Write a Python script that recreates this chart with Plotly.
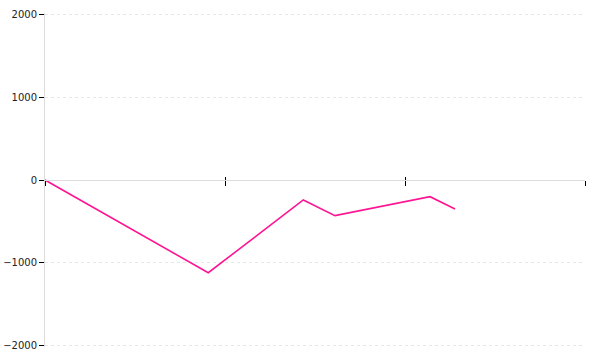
import plotly.graph_objects as go

x_values = [0, 0.907, 1.435, 1.611, 2.139, 2.278]
y_values = [0, -1124, -242, -432, -202, -352]
x_ticks = [0, 1, 2, 3]
y_ticks = [-2000, -1000, 0, 1000, 2000]
y_tick_labels = ["\u22122000", "\u22121000", "0", "1000", "2000"]

fig = go.Figure()
fig.add_trace(go.Scatter(x=x_values, y=y_values, mode="lines",
                         line=dict(color="#ff1493", width=1.6),
                         showlegend=False, hoverinfo="skip"))
fig.add_trace(go.Scatter(x=x_values, y=y_values, mode="lines", xaxis="x2",
                         line=dict(color="rgba(0,0,0,0)", width=0),
                         showlegend=False, hoverinfo="skip"))

fig.update_layout(
    width=600, height=360,
    margin=dict(l=45, r=15, t=13, b=13),
    paper_bgcolor="white", plot_bgcolor="white",
    font=dict(family="DejaVu Sans", size=10, color="#222"),
    xaxis=dict(range=[0, 3], tickvals=x_ticks, showticklabels=False,
               showgrid=False, zeroline=False, showline=True,
               linecolor="#dddddd", linewidth=1, automargin=False,
               ticks="outside", ticklen=5, tickcolor="black", tickwidth=1,
               anchor="free", position=0.5),
    xaxis2=dict(range=[0, 3], tickvals=x_ticks, showticklabels=False,
                showgrid=False, zeroline=False, showline=False, automargin=False,
                ticks="inside", ticklen=3, tickcolor="black", tickwidth=1,
                overlaying="x", anchor="free", position=0.5, side="bottom"),
    yaxis=dict(range=[-2024, 2024], tickvals=y_ticks, ticktext=y_tick_labels,
               showline=True, linecolor="#dddddd", linewidth=1, automargin=False,
               ticks="outside", ticklen=5, tickcolor="black", tickwidth=1,
               showgrid=True, gridcolor="#e8e8e8", griddash="dot", gridwidth=1,
               zeroline=False),
)

fig.write_html("out.html")
